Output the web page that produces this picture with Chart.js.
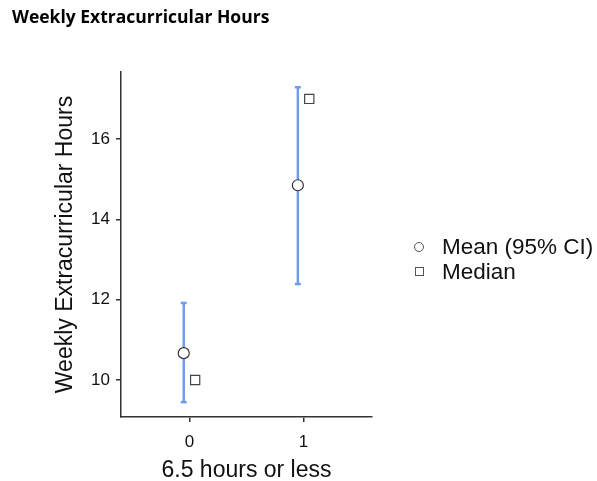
<!DOCTYPE html>
<html>
<head>
<meta charset="utf-8">
<script src="https://cdn.jsdelivr.net/npm/chart.js@4"></script>
<style>
  html, body { margin: 0; padding: 0; background: #fff; }
  #wrap { position: relative; width: 597px; height: 481px; }
  #legend { position: absolute; left: 413px; top: 234px; font-family: "Liberation Sans", Arial, sans-serif; font-size: 22.5px; color: #111; }
  .row { display: flex; align-items: center; height: 25px; }
  .mk { width: 9px; height: 9px; border: 1.2px solid #555; margin-right: 18px; margin-left: 2px; box-sizing: border-box; }
  .circ { border-radius: 50%; width: 10px; height: 10px; margin-left: 1px; margin-right: 18px; }
</style>
</head>
<body>
<div id="wrap">
  <canvas id="myChart" width="597" height="481"></canvas>
  <div id="legend">
    <div class="row"><span class="mk circ"></span>Mean (95% CI)</div>
    <div class="row"><span class="mk"></span>Median</div>
  </div>
</div>
<script>
var categories = [0, 1];
var means = [10.67, 14.85];
var ciLow = [9.45, 12.39];
var ciHigh = [11.92, 17.29];
var medians = [10.0, 17.0];
var yTicks = [10, 12, 14, 16];

var barColor = '#6f9fe8';
var ctx = document.getElementById("myChart");

var meanPts = [];
var medianPts = [];
for (var i = 0; i < categories.length; i++) {
    meanPts.push({ x: categories[i] - 0.05, y: means[i] });
    medianPts.push({ x: categories[i] + 0.05, y: medians[i] });
}

var datasets = [
    {
        label: 'Mean (95% CI)',
        data: meanPts,
        pointStyle: 'circle',
        pointRadius: 5.5,
        pointBackgroundColor: '#fff',
        pointBorderColor: '#333',
        pointBorderWidth: 1.2,
        showLine: false
    },
    {
        label: 'Median',
        data: medianPts,
        pointStyle: 'rect',
        pointRadius: 6.5,
        pointBackgroundColor: '#fff',
        pointBorderColor: '#444',
        pointBorderWidth: 1.2,
        showLine: false
    }
];
// error bars, caps drawn as 'line' points
for (var j = 0; j < categories.length; j++) {
    datasets.push({
        label: 'ci' + j,
        data: [{ x: categories[j] - 0.05, y: ciLow[j] }, { x: categories[j] - 0.05, y: ciHigh[j] }],
        showLine: true,
        borderColor: barColor,
        borderWidth: 2.5,
        pointStyle: 'line',
        pointRadius: 3,
        pointBorderColor: barColor,
        pointBorderWidth: 2.5
    });
}

var myChart = new Chart(ctx, {
    type: 'scatter',
    data: { datasets: datasets },
    options: {
        responsive: false,
        animation: false,
        layout: { padding: { left: 12, right: 225, top: 0, bottom: 0 } },
        plugins: {
            legend: { display: false },
            tooltip: { enabled: false },
            title: {
                display: true,
                text: 'Weekly Extracurricular Hours',
                align: 'start',
                color: '#000',
                font: { family: '"Open Sans", sans-serif', size: 17.5, weight: 'bold' },
                padding: { top: 8, bottom: 43 }
            }
        },
        scales: {
            x: {
                type: 'linear',
                min: -0.6,
                max: 1.6,
                afterBuildTicks: function (axis) {
                    axis.ticks = categories.map(function (c) { return { value: c }; });
                },
                afterFit: function (axis) { axis.height = 64; },
                border: { display: true, color: '#333', width: 1.5 },
                grid: { display: true, drawOnChartArea: false, drawTicks: true, tickLength: 5, color: '#333', lineWidth: 1.5 },
                ticks: { color: '#111', font: { family: '"Liberation Sans", Arial', size: 17 }, padding: 10 },
                title: {
                    display: true,
                    text: '6.5 hours or less',
                    color: '#111',
                    font: { family: '"Liberation Sans", Arial', size: 23 },
                    padding: { top: 4, bottom: -3 }
                }
            },
            y: {
                min: 9.08,
                max: 17.67,
                afterBuildTicks: function (axis) {
                    axis.ticks = yTicks.map(function (v) { return { value: v }; });
                },
                afterFit: function (axis) { axis.width = 109; },
                border: { display: true, color: '#333', width: 1.5 },
                grid: { display: true, drawOnChartArea: false, drawTicks: true, tickLength: 5, color: '#333', lineWidth: 1.5 },
                ticks: { color: '#111', font: { family: '"Liberation Sans", Arial', size: 17 }, padding: 6 },
                title: {
                    display: true,
                    text: 'Weekly Extracurricular Hours',
                    color: '#111',
                    font: { family: '"Liberation Sans", Arial', size: 23 },
                    padding: { top: 40, bottom: 0 }
                }
            }
        }
    }
});
</script>
</body>
</html>
